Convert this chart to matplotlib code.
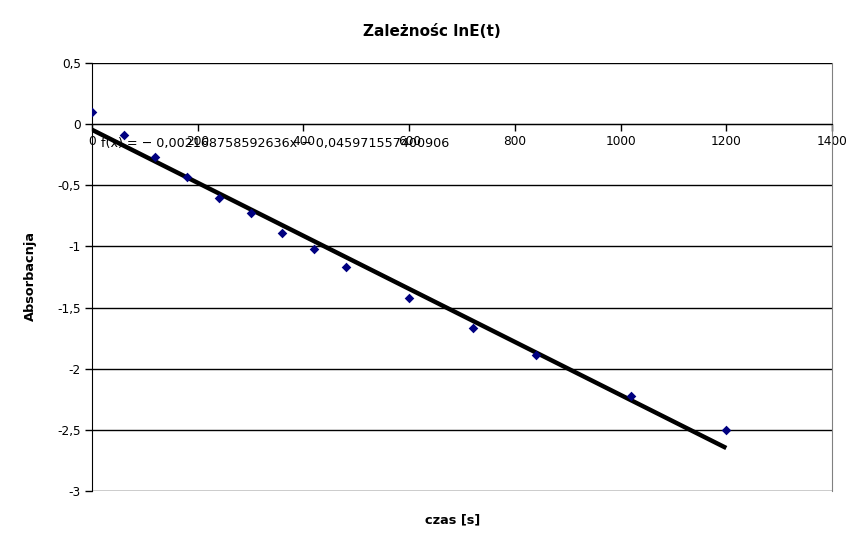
import matplotlib
matplotlib.use("Agg")
import matplotlib.pyplot as plt
import numpy as np

# Data
czas = [0, 60, 120, 180, 240, 300, 360, 420, 480, 600, 720, 840, 1020, 1200]
absorbancja = [0.10, -0.09, -0.27, -0.43, -0.60, -0.73, -0.89, -1.02, -1.17, -1.42, -1.67, -1.89, -2.22, -2.50]
slope = -0.002168758592636
intercept = -0.045971557400906
x_ticks = [0, 200, 400, 600, 800, 1000, 1200, 1400]
y_ticks = [0.5, 0, -0.5, -1, -1.5, -2, -2.5, -3]

def fmt(v):
    return ("%g" % v).replace(".", ",")

fig = plt.figure(figsize=(8.66, 5.48), dpi=100)
ax = fig.add_axes([92/866, 57/548, 740/866, 428/548])

ax.set_xlim(0, 1400)
ax.set_ylim(-3, 0.5)

for yt in y_ticks:
    ax.axhline(yt, color="black", lw=1.0, zorder=1)

# trend line
tx = np.array([0, 1200])
ax.plot(tx, slope * tx + intercept, color="black", lw=3.2, zorder=3, solid_capstyle="butt")
ax.scatter(czas, absorbancja, marker="D", s=24, color="#000080", zorder=4, linewidths=0)

ax.spines["left"].set_position(("data", 0))
ax.spines["bottom"].set_position(("data", 0))
ax.spines["top"].set_visible(False)
ax.spines["right"].set_color("#808080")
ax.spines["left"].set_color("black")
ax.spines["bottom"].set_color("black")

ax.set_xticks(x_ticks)
ax.set_xticklabels([fmt(v) for v in x_ticks], fontsize=8.7)
ax.set_yticks(y_ticks)
ax.set_yticklabels([fmt(v) for v in y_ticks], fontsize=8.7)
ax.tick_params(axis="both", direction="out", length=5, width=1, colors="black", pad=3)

ax.text(17, -0.155, "f(x) = − 0,002168758592636x − 0,045971557400906",
        fontsize=9.2, ha="left", va="center", zorder=5)

fig.text(432/866, 1 - 31/548, "Zależnośc lnE(t)", ha="center", va="center",
         fontsize=11, fontweight="bold")
fig.text(453/866, 1 - 520/548, "czas [s]", ha="center", va="center", fontsize=9.3, fontweight="bold")
fig.text(30/866, 1 - 276/548, "Absorbacnja", ha="center", va="center", fontsize=9.3,
         fontweight="bold", rotation=90)

fig.savefig("out.png", dpi=100, facecolor="white")
